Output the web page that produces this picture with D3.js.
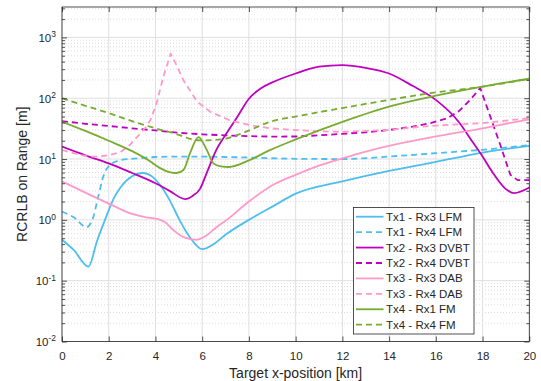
<!DOCTYPE html>
<html><head><meta charset="utf-8">
<script src="https://cdn.jsdelivr.net/npm/d3@7"></script>
<style>
body{margin:0;background:#fff}
svg{display:block}
text{font-family:"Liberation Sans",Arial,Helvetica,sans-serif;fill:#262626}
</style>
</head><body><div id="chart"></div>
<script>
// ---- data (x in km, RCRLB in m) ----
const xTicks = [0, 2, 4, 6, 8, 10, 12, 14, 16, 18, 20];
const yDecades = [-2, -1, 0, 1, 2, 3];
const xLabel = "Target x-position [km]";
const yLabel = "RCRLB on Range [m]";
const seriesNames = ["Tx1 - Rx3 LFM", "Tx1 - Rx4 LFM", "Tx2 - Rx3 DVBT", "Tx2 - Rx4 DVBT",
                     "Tx3 - Rx3 DAB", "Tx3 - Rx4 DAB", "Tx4 - Rx1 FM", "Tx4 - Rx4 FM"];

const tx1rx3X = [0, 0.5, 1.13, 1.5, 1.84, 2.2, 2.5, 3.0, 3.45, 3.9, 4.3, 4.7, 5.0, 5.5, 6.0, 6.5, 7.0, 8.0, 9.0, 10, 12, 14, 16, 18, 20];
const tx1rx3Y = [0.47, 0.32, 0.17, 0.45, 1.0, 2.2, 3.4, 5.2, 5.9, 5.0, 3.3, 1.8, 1.05, 0.5, 0.33, 0.4, 0.57, 1.0, 1.65, 2.7, 4.3, 6.4, 9.0, 12.8, 16.5];

const tx1rx4X = [0, 0.5, 1.05, 1.3, 1.55, 1.77, 2.06, 2.56, 3.27, 4, 5, 6, 7, 8, 9, 10, 12, 14, 16, 18, 20];
const tx1rx4Y = [1.37, 1.1, 0.76, 1.0, 2.4, 5.2, 8, 9.7, 10.3, 10.8, 11, 11, 10.8, 10.6, 10.3, 10.1, 10.0, 11, 12.5, 14.2, 17];

const tx2rx3X = [0, 1, 2, 3, 4, 4.6, 5.27, 5.6, 5.9, 6.2, 6.6, 7, 7.5, 8, 8.5, 9, 10, 11, 12, 13, 14, 15, 16, 17, 17.5, 18, 18.5, 19, 19.35, 20];
const tx2rx3Y = [16, 11.5, 8.5, 5.9, 4.0, 3.0, 2.2, 2.5, 3.2, 6.0, 14, 25, 49, 98, 145, 182, 255, 330, 350, 315, 255, 160, 94, 40, 21, 11, 5.5, 3.2, 2.75, 3.4];

const tx2rx4X = [0, 1, 2, 3, 4, 5, 6, 7, 8, 9, 10, 11, 12, 13, 14, 15, 15.76, 16.5, 17, 17.47, 17.9, 18.33, 18.76, 19.19, 19.5, 20];
const tx2rx4Y = [42, 38, 35, 32, 29.5, 27, 25.5, 24.5, 23.8, 23.4, 23.5, 24.5, 26, 27.5, 30, 34, 39, 47, 62, 94, 147, 50, 17, 5.5, 4.5, 4.5];

const tx3rx3X = [0, 1, 2, 3, 3.6, 4.05, 4.4, 4.77, 5.2, 5.77, 6.2, 6.6, 7.05, 8, 9, 10, 11, 12, 13, 14, 16, 18, 20];
const tx3rx3Y = [4.3, 2.8, 1.85, 1.25, 1.1, 1.04, 0.92, 0.68, 0.52, 0.47, 0.56, 0.75, 1.0, 2.0, 3.7, 5.5, 7.8, 10.3, 13.3, 16.5, 23.5, 32, 45];

const tx3rx4X = [0, 0.5, 1.1, 1.6, 2.06, 2.5, 2.9, 3.3, 3.6, 3.8, 4.05, 4.34, 4.65, 4.9, 5.19, 5.5, 5.77, 6.34, 7.2, 8.05, 8.9, 10, 11, 12, 13, 14, 15, 16, 18, 20];
const tx3rx4Y = [14, 12.5, 11, 11, 11.7, 13, 17, 25, 34, 45, 83, 228, 540, 350, 200, 130, 89, 60, 43, 36, 32, 30, 28.5, 28, 29, 30, 33, 35.5, 39, 47];

const tx4rx1X = [0, 1, 2, 3, 3.77, 4.2, 4.6, 4.9, 5.2, 5.48, 5.84, 6.2, 6.48, 6.8, 7.15, 8, 8.9, 10, 12, 14, 16, 18, 20];
const tx4rx1Y = [41, 29, 20, 13.5, 9.2, 7.1, 6.1, 5.9, 6.6, 12.5, 23, 14, 8.5, 7.6, 7.4, 9.5, 14, 21, 41, 73, 110, 155, 209];

const tx4rx4X = [0, 1, 2, 3, 4, 5, 5.48, 5.9, 6.8, 7.4, 8.05, 8.9, 10, 12, 14, 15.76, 18, 20];
const tx4rx4Y = [100, 75, 57, 42, 32, 25, 21.5, 20.3, 21, 24, 30, 41, 50, 69, 94, 121, 155, 209];

const seriesX = [tx1rx3X, tx1rx4X, tx2rx3X, tx2rx4X, tx3rx3X, tx3rx4X, tx4rx1X, tx4rx4X];
const seriesY = [tx1rx3Y, tx1rx4Y, tx2rx3Y, tx2rx4Y, tx3rx3Y, tx3rx4Y, tx4rx1Y, tx4rx4Y];

// ---- styles ----
const colors = ["#4DBEEE", "#4DBEEE", "#BF00BF", "#BF00BF", "#FF99C8", "#FF99C8", "#77AC30", "#77AC30"];
const dashed = [false, true, false, true, false, true, false, true];
const sharp = [false, false, false, true, false, true, false, false];

const W = 541, H = 381;
const m = {left: 62, right: 11.7, top: 7, bottom: 39.5};
const iw = W - m.left - m.right, ih = H - m.top - m.bottom;

const svg = d3.select("#chart").append("svg").attr("width", W).attr("height", H);
const g = svg.append("g").attr("transform", `translate(${m.left},${m.top})`);

const x = d3.scaleLinear().domain([0, 20]).range([0, iw]);
const y = d3.scaleLog().domain([1e-2, Math.pow(10, 3.5)]).range([ih, 0]);

const majorY = yDecades.map(d => Math.pow(10, d));
const minorY = [];
yDecades.forEach(d => { for (let k = 2; k <= 9; k++) { const v = k * Math.pow(10, d); if (v <= Math.pow(10, 3.5)) minorY.push(v); } });

// grid
const grid = g.append("g");
grid.selectAll(".ymin").data(minorY).enter().append("line")
  .attr("x1", 0).attr("x2", iw).attr("y1", d => y(d)).attr("y2", d => y(d))
  .attr("stroke", "#c4c4c4").attr("stroke-width", 0.6).attr("stroke-dasharray", "1,2");
grid.selectAll(".ymaj").data(majorY).enter().append("line")
  .attr("x1", 0).attr("x2", iw).attr("y1", d => y(d)).attr("y2", d => y(d))
  .attr("stroke", "#dfdfdf").attr("stroke-width", 1);
grid.selectAll(".xmaj").data(xTicks).enter().append("line")
  .attr("y1", 0).attr("y2", ih).attr("x1", d => x(d)).attr("x2", d => x(d))
  .attr("stroke", "#dfdfdf").attr("stroke-width", 1);

// curves
g.append("clipPath").attr("id", "clip").append("rect").attr("width", iw).attr("height", ih);
const plot = g.append("g").attr("clip-path", "url(#clip)");
seriesX.forEach((xs, i) => {
  const pts = xs.map((v, j) => [v, seriesY[i][j]]);
  const line = d3.line().x(d => x(d[0])).y(d => y(d[1]))
    .curve(sharp[i] ? d3.curveLinear : d3.curveMonotoneX);
  plot.append("path").datum(pts).attr("d", line)
    .attr("fill", "none").attr("stroke", colors[i]).attr("stroke-width", 1.8)
    .attr("stroke-linejoin", "round")
    .attr("stroke-dasharray", dashed[i] ? "6,4" : null);
});

// axes
const axColor = "#262626";
function styleAxis(sel) {
  sel.select(".domain").remove();
  sel.selectAll("line").attr("stroke", axColor).attr("stroke-width", 0.8);
}
const xb = g.append("g").attr("transform", `translate(0,${ih})`)
  .call(d3.axisBottom(x).tickValues(xTicks).tickSizeInner(-5).tickSizeOuter(0).tickPadding(10).tickFormat(d3.format("d")));
styleAxis(xb);
xb.selectAll("text").attr("font-size", 11.5).attr("fill", axColor);
const xt = g.append("g").call(d3.axisTop(x).tickValues(xTicks).tickSizeInner(-5).tickSizeOuter(0).tickFormat(""));
styleAxis(xt);

const yl = g.append("g").call(d3.axisLeft(y).tickValues(majorY).tickSizeInner(-5).tickSizeOuter(0).tickPadding(6).tickFormat(""));
styleAxis(yl);
yl.selectAll(".tick text").each(function(d) {
  const t = d3.select(this).attr("text-anchor", "end").attr("font-size", 11.5).attr("fill", axColor).attr("dy", "0.35em");
  t.text(null);
  t.append("tspan").text("10");
  t.append("tspan").attr("font-size", 8.5).attr("dy", "-0.55em").text(Math.round(Math.log10(d)));
});
const ylm = g.append("g").call(d3.axisLeft(y).tickValues(minorY).tickSizeInner(-3).tickSizeOuter(0).tickFormat(""));
styleAxis(ylm);
const yr = g.append("g").attr("transform", `translate(${iw},0)`)
  .call(d3.axisRight(y).tickValues(majorY).tickSizeInner(-5).tickSizeOuter(0).tickFormat(""));
styleAxis(yr);
const yrm = g.append("g").attr("transform", `translate(${iw},0)`)
  .call(d3.axisRight(y).tickValues(minorY).tickSizeInner(-3).tickSizeOuter(0).tickFormat(""));
styleAxis(yrm);

// box
g.append("rect").attr("width", iw).attr("height", ih).attr("fill", "none")
  .attr("stroke", axColor).attr("stroke-width", 0.8);

// labels
svg.append("text").attr("x", m.left + iw / 2).attr("y", 378).attr("text-anchor", "middle")
  .attr("font-size", 14).text(xLabel);
svg.append("text").attr("transform", `translate(27,${m.top + ih / 2}) rotate(-90)`)
  .attr("text-anchor", "middle").attr("font-size", 14).text(yLabel);

// legend
const lg = svg.append("g");
lg.append("rect").attr("x", 353.5).attr("y", 207.5).attr("width", 120.5).attr("height", 126.5)
  .attr("fill", "#fff").attr("stroke", axColor).attr("stroke-width", 0.8);
seriesNames.forEach((name, i) => {
  const yy = 216.7 + i * 15.43;
  lg.append("line").attr("x1", 356).attr("x2", 383.5).attr("y1", yy).attr("y2", yy)
    .attr("stroke", colors[i]).attr("stroke-width", 1.8)
    .attr("stroke-dasharray", dashed[i] ? "6,4" : null);
  lg.append("text").attr("x", 386).attr("y", yy).attr("dy", "0.35em")
    .attr("font-size", 11.5).text(name);
});
</script>
</body></html>
